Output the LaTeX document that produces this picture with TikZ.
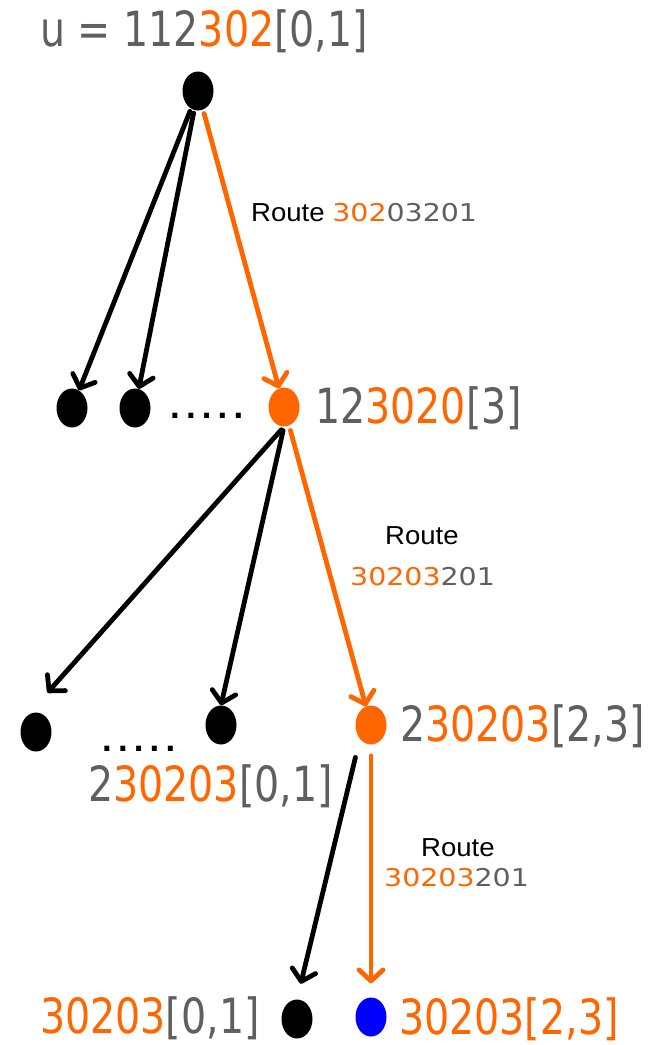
\documentclass[tikz,border=0pt]{standalone}
\usepackage{fontspec}
\usetikzlibrary{arrows.meta,shapes.geometric}
\newfontfamily\bigf[FakeStretch=0.815]{DejaVu Sans}
\newfontfamily\rtf[FakeStretch=1.06]{Liberation Sans}
\newfontfamily\rdf[FakeStretch=1.16]{DejaVu Sans}
\newfontfamily\dotf{DejaVu Sans Bold}
\definecolor{myor}{HTML}{FF6600}
\definecolor{mygr}{HTML}{5F5F5F}
\definecolor{myblue}{HTML}{0000FF}
\newcommand\Ot[1]{\textcolor{myor}{#1}}
\newcommand\Gt[1]{\textcolor{mygr}{#1}}
\newcommand\rdig{\rdf\fontsize{24.5}{28}\selectfont}
\begin{document}
\begin{tikzpicture}[x=1pt,y=-1pt,
  dot/.style={ellipse,fill=black,minimum width=31pt,minimum height=39pt,inner sep=0pt},
  big/.style={anchor=base west,inner sep=0pt,text=mygr,font=\bigf\fontsize{48.5}{52}\selectfont},
  rt/.style={anchor=base west,inner sep=0pt,text=black,font=\rtf\fontsize{26}{28}\selectfont},
  rd/.style={anchor=base west,inner sep=0pt,text=mygr,font=\rdig},
  dotsl/.style={anchor=base west,inner sep=0pt,font=\dotf\fontsize{28}{30}\selectfont},
  arr/.style={line width=4.8pt,line cap=round,-{Straight Barb[length=11pt,width=24pt,round]}},
  oarr/.style={arr,draw=myor}
]
\useasboundingbox (0,0) rectangle (655,1045);

% dots (nodes of the tree)
\node[dot] (r) at (198,91) {};
\node[dot] (a1) at (72,408) {};
\node[dot] (a2) at (135,408) {};
\node[dot,fill=myor] (a3) at (284,407) {};
\node[dot] (b1) at (36,732) {};
\node[dot] (b2) at (221,725) {};
\node[dot,fill=myor] (b3) at (371,725) {};
\node[dot] (c1) at (297,1019) {};
\node[dot,fill=myblue] (c2) at (371,1017) {};

% ellipses "....."
\node[dotsl] (d1) at (169.5,418) {.\kern5.2pt.\kern5.2pt.\kern5.2pt.\kern5.2pt.};
\node[dotsl] (d2) at (101.5,751) {.\kern5.2pt.\kern5.2pt.\kern5.2pt.\kern5.2pt.};

% big labels
\node[big] (lu) at (40,46) {u = 112\Ot{302}[0,1]};
\node[big] (la3) at (315,423) {12\Ot{3020}[3]};
\node[big] (lb3) at (400,741) {2\Ot{30203}[2,3]};
\node[big] (lb2) at (88,801) {2\Ot{30203}[0,1]};
\node[big] (lc1) at (40,1033) {\Ot{30203}[0,1]};
\node[big,text=myor] (lc2) at (399,1034) {30203[2,3]};

% route labels
\node[rt] (r1) at (251,221) {Route {\rdig\Ot{302}\Gt{03201}}};
\node[rt] (r2a) at (385,544) {Route};
\node[rd] (r2b) at (350,585) {\Ot{30203}201};
\node[rt] (r3a) at (421,856) {Route};
\node[rd] (r3b) at (384,886) {\Ot{30203}201};

% connectors
\draw[arr,shorten <=3pt] (r) -- (a1);
\draw[arr,shorten <=3pt] (r) -- (a2);
\draw[oarr,shorten <=4pt] (r) -- (a3);
\draw[arr,shorten <=4pt,shorten >=34pt] (a3.south) -- (b1.north west);
\draw[arr,shorten <=4pt] (a3.south) -- (b2.north);
\draw[oarr,shorten <=5pt] (a3) -- (b3);
\draw[arr,shorten <=19pt,shorten >=16pt] (b3.south west) -- (c1.north);
\draw[oarr,shorten <=11pt,shorten >=14pt] (b3) -- (c2);
\end{tikzpicture}
\end{document}
